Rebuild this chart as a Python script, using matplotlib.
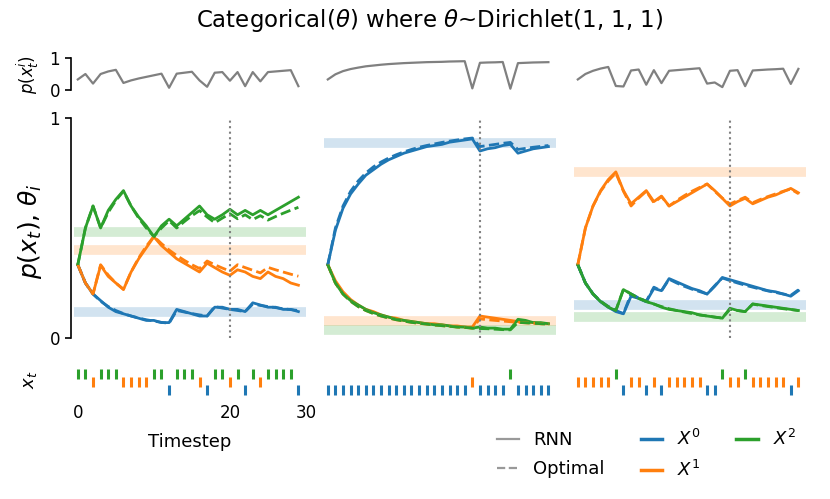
import numpy as np
import matplotlib
matplotlib.use('Agg')
import matplotlib.pyplot as plt
from matplotlib.lines import Line2D

# observed sequences x_t (0, 1, 2)
p1_seq = [2, 2, 1, 2, 2, 2, 1, 1, 1, 1, 2, 2, 0, 2, 2, 2, 1, 0, 2, 2, 1, 2, 0, 2, 1, 2, 2, 2, 2, 0]
p2_seq = [0] * 19 + [1, 0, 0, 0, 0, 2, 0, 0, 0, 0, 0]
p3_seq = [1, 1, 1, 1, 1, 2, 0, 1, 1, 0, 1, 0, 1, 1, 1, 1, 1, 0, 0, 2, 1, 1, 2, 1, 1, 1, 1, 1, 0, 1]

# true theta (shaded bands)
p1_theta = [0.12, 0.40, 0.48]
p2_theta = [0.888, 0.077, 0.035]
p3_theta = [0.15, 0.755, 0.095]

# optimal (dashed)
p1_opt_x0 = [.333, .25, .2, .167, .143, .125, .111, .1, .091, .083, .077, .071, .067, .125, .118,
             .111, .105, .1, .143, .136, .130, .125, .12, .154, .148, .143, .138, .133, .129, .125]
p1_opt_x1 = [.333, .25, .2, .333, .286, .25, .222, .3, .364, .417, .462, .429, .4, .375, .353,
             .333, .316, .35, .333, .318, .304, .333, .32, .308, .296, .321, .310, .3, .290, .281]
p1_opt_x2 = [.333, .5, .6, .5, .571, .625, .667, .6, .545, .5, .462, .5, .533, .5, .529,
             .556, .579, .55, .524, .545, .565, .542, .56, .538, .556, .536, .552, .567, .581, .594]

p2_opt_x0 = [.333, .5, .6, .667, .714, .75, .778, .8, .818, .833, .846, .857, .867, .875, .882,
             .889, .895, .9, .905, .909, .870, .875, .88, .885, .889, .857, .862, .867, .871, .875]
p2_opt_x1 = [.333, .25, .2, .167, .143, .125, .111, .1, .091, .083, .077, .071, .067, .063, .059,
             .056, .053, .05, .048, .045, .087, .083, .08, .077, .074, .071, .069, .067, .065, .063]
p2_opt_x2 = [.333, .25, .2, .167, .143, .125, .111, .1, .091, .083, .077, .071, .067, .063, .059,
             .056, .053, .05, .048, .045, .043, .042, .04, .038, .037, .071, .069, .067, .065, .063]

p3_opt_x0 = [.333, .25, .2, .167, .143, .125, .111, .2, .182, .167, .231, .214, .267, .25, .235,
             .222, .211, .2, .238, .273, .261, .25, .24, .231, .222, .214, .207, .2, .194, .219]
p3_opt_x1 = [.333, .5, .6, .667, .714, .75, .667, .6, .636, .667, .615, .643, .6, .625, .647,
             .667, .684, .7, .667, .636, .609, .625, .64, .615, .630, .643, .655, .667, .677, .656]
p3_opt_x2 = [.333, .25, .2, .167, .143, .125, .222, .2, .182, .167, .154, .143, .133, .125, .118,
             .111, .105, .1, .095, .091, .130, .125, .12, .154, .148, .143, .138, .133, .129, .125]

# RNN (solid)
p1_rnn_x0 = [.333, .25, .20, .17, .14, .12, .11, .10, .09, .08, .08, .07, .07, .13, .12,
             .11, .10, .10, .14, .14, .13, .13, .12, .16, .15, .14, .14, .13, .13, .12]
p1_rnn_x1 = [.333, .25, .20, .33, .28, .25, .22, .30, .36, .41, .46, .42, .39, .36, .34,
             .32, .30, .34, .32, .30, .285, .31, .30, .28, .27, .30, .28, .27, .25, .24]
p1_rnn_x2 = [.333, .50, .60, .50, .58, .63, .67, .60, .55, .51, .46, .51, .54, .51, .54,
             .57, .60, .56, .54, .56, .585, .56, .58, .56, .58, .56, .58, .60, .62, .64]

p2_rnn_x0 = [.333, .49, .59, .655, .70, .74, .765, .79, .81, .825, .84, .85, .86, .87, .875,
             .88, .89, .895, .90, .905, .85, .86, .865, .875, .88, .84, .85, .86, .865, .87]
p2_rnn_x1 = [.333, .26, .21, .175, .15, .13, .12, .105, .095, .09, .08, .075, .07, .065, .065,
             .06, .055, .055, .05, .05, .10, .095, .09, .085, .08, .075, .07, .07, .065, .065]
p2_rnn_x2 = [.333, .25, .20, .17, .15, .13, .115, .105, .095, .085, .08, .075, .07, .065, .06,
             .06, .055, .05, .05, .045, .05, .045, .045, .04, .04, .085, .08, .07, .07, .065]

p3_rnn_x0 = [.333, .25, .20, .165, .14, .12, .11, .19, .18, .165, .225, .215, .27, .255, .24,
             .225, .215, .20, .235, .275, .265, .255, .245, .235, .225, .215, .21, .20, .19, .215]
p3_rnn_x1 = [.333, .50, .60, .67, .72, .755, .67, .61, .64, .67, .62, .645, .60, .62, .64,
             .66, .68, .70, .67, .635, .60, .62, .635, .61, .625, .64, .65, .665, .68, .66]
p3_rnn_x2 = [.333, .25, .20, .165, .14, .125, .22, .20, .18, .165, .155, .14, .13, .125, .12,
             .115, .105, .10, .095, .09, .135, .125, .12, .155, .15, .145, .14, .135, .13, .125]

# RNN probability of the observed symbol (top strip)
p1_top = [.33, .50, .20, .50, .58, .63, .22, .30, .36, .41, .46, .51, .07, .51, .54,
          .57, .30, .10, .54, .56, .29, .56, .12, .56, .27, .56, .58, .60, .62, .12]
p2_top = [.33, .49, .59, .655, .70, .74, .765, .79, .81, .825, .84, .85, .86, .87, .875,
          .88, .89, .895, .90, .05, .85, .86, .865, .875, .04, .84, .85, .86, .865, .87]
p3_top = [.33, .50, .60, .67, .72, .125, .11, .61, .64, .165, .62, .215, .60, .62, .64,
          .66, .68, .20, .235, .09, .60, .62, .12, .61, .625, .64, .65, .665, .19, .66]

panels = [
    (p1_seq, p1_theta, [p1_opt_x0, p1_opt_x1, p1_opt_x2], [p1_rnn_x0, p1_rnn_x1, p1_rnn_x2], p1_top),
    (p2_seq, p2_theta, [p2_opt_x0, p2_opt_x1, p2_opt_x2], [p2_rnn_x0, p2_rnn_x1, p2_rnn_x2], p2_top),
    (p3_seq, p3_theta, [p3_opt_x0, p3_opt_x1, p3_opt_x2], [p3_rnn_x0, p3_rnn_x1, p3_rnn_x2], p3_top),
]

colors = ['#1f77b4', '#ff7f0e', '#2ca02c']
W, H = 830, 499
fig = plt.figure(figsize=(W / 100, H / 100), dpi=100)


def add_ax(left, top, right, bottom):
    return fig.add_axes([left / W, 1 - bottom / H, (right - left) / W, (bottom - top) / H])


def clean(ax, keep_left):
    for s in ['top', 'right', 'bottom']:
        ax.spines[s].set_visible(False)
    if keep_left:
        ax.spines['left'].set_position(('outward', 2))
        ax.set_yticks([0, 1])
        ax.tick_params(axis='y', labelsize=12, length=4.5, width=1.2)
        ax.spines['left'].set_linewidth(1.2)
    else:
        ax.spines['left'].set_visible(False)
        ax.set_yticks([])
    ax.set_xticks([])


lefts = [74, 324, 574]
for i, (seq, theta, opt, rnn, top) in enumerate(panels):
    x0 = lefts[i]
    t = np.arange(len(seq))
    seq = np.array(seq)

    ax_top = add_ax(x0, 58, x0 + 232, 90)
    ax_top.plot(t, top, color='gray', lw=1.6, clip_on=False)
    ax_top.set_xlim(-0.5, 30)
    ax_top.set_ylim(0, 1)
    clean(ax_top, i == 0)

    ax = add_ax(x0, 118, x0 + 232, 338)
    for k in range(3):
        ax.axhline(theta[k], color=colors[k], lw=7, alpha=0.2, zorder=1)
    for k in range(3):
        ax.plot(t, rnn[k], color=colors[k], lw=2, zorder=3)
        ax.plot(t, opt[k], color=colors[k], lw=2, ls='--', zorder=4)
    ax.axvline(20, color='gray', ls=':', lw=1.5, zorder=5)
    ax.set_xlim(-0.5, 30)
    ax.set_ylim(0, 1)
    clean(ax, i == 0)

    ax_x = add_ax(x0, 365, x0 + 232, 400)
    for k in range(3):
        m = seq == k
        ax_x.plot(t[m], seq[m], ls='none', marker='|', ms=7.5, mew=2.2, color=colors[k])
    ax_x.set_xlim(-0.5, 30)
    ax_x.set_ylim(-1.25, 3.125)
    for s in ax_x.spines.values():
        s.set_visible(False)
    ax_x.set_yticks([])
    if i == 0:
        ax_x.set_xticks([0, 20, 30])
        ax_x.tick_params(axis='x', length=0, labelsize=12, pad=3)
        ax_x.set_xlabel('Timestep', fontsize=13, labelpad=8)
    else:
        ax_x.set_xticks([])

fig.text(430 / W, 1 - 20 / H, r'Categorical($\theta$) where $\theta$~Dirichlet(1, 1, 1)',
         ha='center', va='center', fontsize=16.5)
fig.text(28 / W, 1 - 74 / H, r'$p(x^i_t)$', rotation=90, ha='center', va='center', fontsize=12)
fig.text(30 / W, 1 - 231 / H, r'$p(x_t)$, $\theta_i$', rotation=90, ha='center', va='center', fontsize=18)
fig.text(30 / W, 1 - 380 / H, r'$x_t$', rotation=90, ha='center', va='center', fontsize=13)

handles = [Line2D([], [], color='#999999', lw=1.6),
           Line2D([], [], color='#999999', lw=1.6, ls='--'),
           Line2D([], [], color=colors[0], lw=2.5),
           Line2D([], [], color=colors[1], lw=2.5),
           Line2D([], [], color=colors[2], lw=2.5)]
labels = ['RNN', 'Optimal', '$X^0$', '$X^1$', '$X^2$']
fig.legend(handles, labels, ncol=3, loc='upper left', bbox_to_anchor=(497 / W, 1 - 429 / H),
           frameon=False, fontsize=13, borderpad=0, handlelength=1.2, handletextpad=0.8,
           columnspacing=2.0, labelspacing=0.6, borderaxespad=0)

fig.savefig('out.png', dpi=100)
